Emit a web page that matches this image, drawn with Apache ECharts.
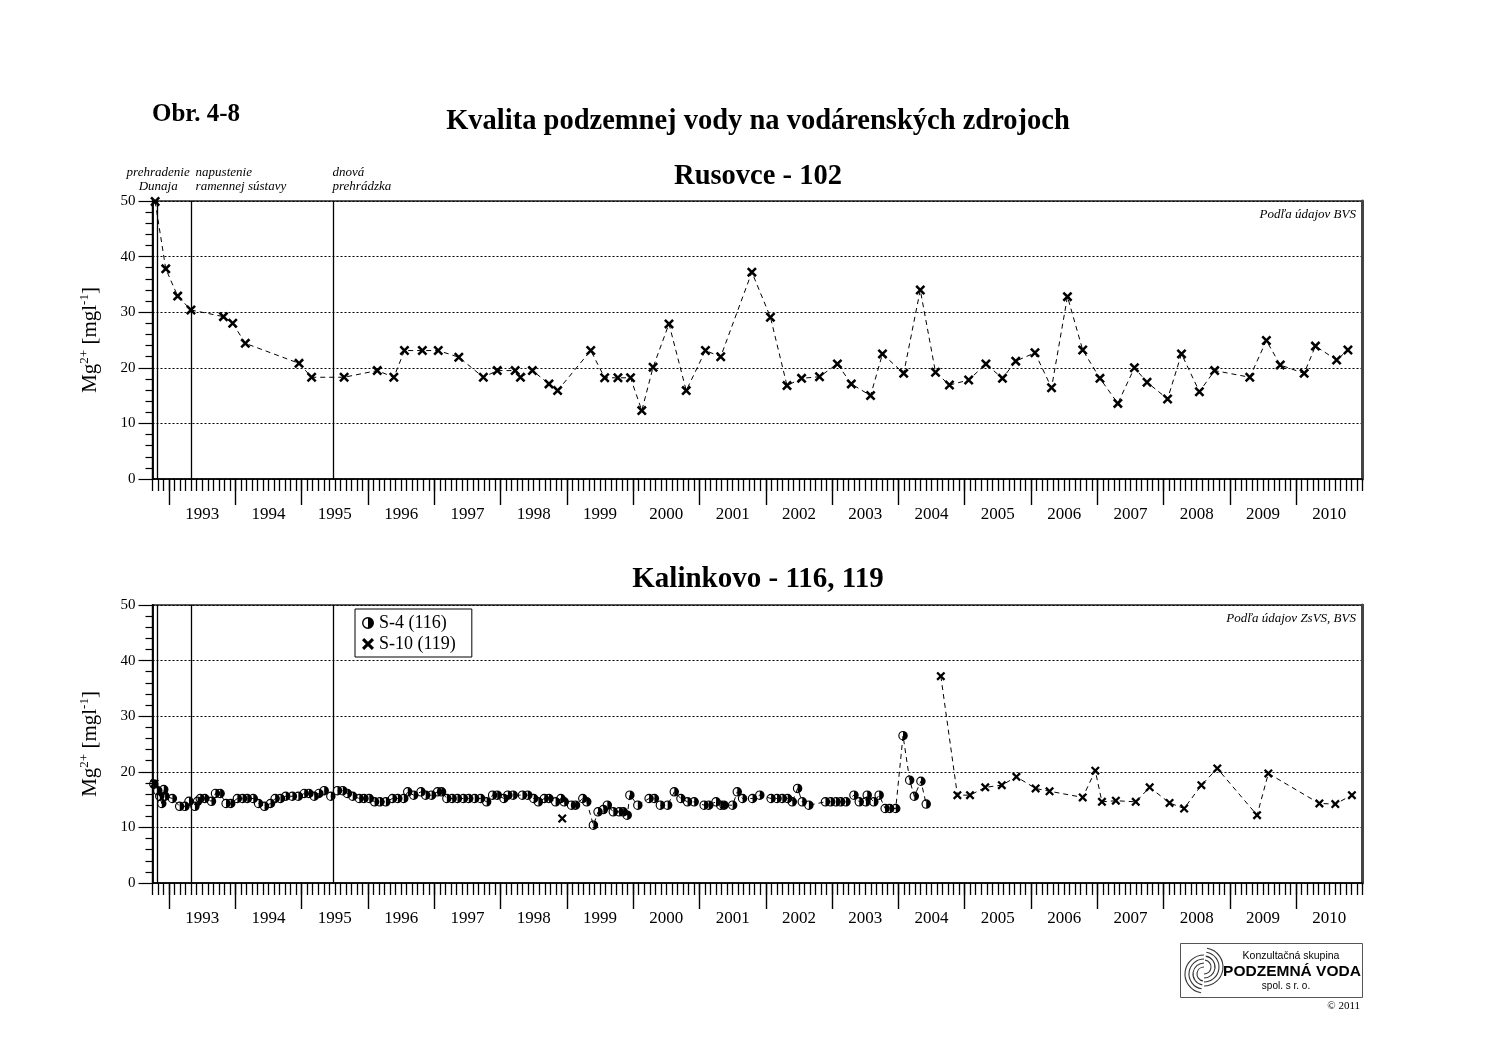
<!DOCTYPE html>
<html><head><meta charset="utf-8">
<script src="https://cdn.jsdelivr.net/npm/echarts@6/dist/echarts.min.js"></script>
<style>html,body{margin:0;padding:0;background:#fff}#c{width:1500px;height:1060px}</style>
</head><body><div id="c"></div><script>
// ---------- data ----------
const yearLabels = ['1993','1994','1995','1996','1997','1998','1999','2000','2001','2002','2003','2004','2005','2006','2007','2008','2009','2010'];
const eventDates = [1992.82, 1993.34, 1995.48];
const eventLabels = [['prehradenie','Dunaja'], ['napustenie','ramennej sústavy'], ['dnová','prehrádzka']];
const rusovce102 = [
 [1992.79,49.9],[1992.95,37.8],[1993.13,32.9],[1993.33,30.4],[1993.82,29.2],[1993.96,28.0],[1994.15,24.4],[1994.96,20.8],
 [1995.15,18.3],[1995.64,18.3],[1996.14,19.5],[1996.39,18.3],[1996.55,23.1],[1996.82,23.1],[1997.06,23.1],[1997.37,21.9],
 [1997.74,18.3],[1997.95,19.5],[1998.22,19.5],[1998.30,18.3],[1998.48,19.5],[1998.73,17.1],[1998.86,15.9],[1999.36,23.1],
 [1999.57,18.2],[1999.77,18.2],[1999.96,18.2],[2000.13,12.3],[2000.30,20.1],[2000.54,27.9],[2000.80,15.9],[2001.09,23.1],
 [2001.32,22.0],[2001.79,37.2],[2002.07,29.1],[2002.32,16.8],[2002.54,18.1],[2002.81,18.4],[2003.08,20.7],[2003.29,17.1],
 [2003.58,15.0],[2003.76,22.5],[2004.08,19.0],[2004.33,34.0],[2004.56,19.2],[2004.77,16.9],[2005.06,17.8],[2005.32,20.7],
 [2005.57,18.1],[2005.77,21.2],[2006.06,22.7],[2006.31,16.4],[2006.55,32.8],[2006.78,23.2],[2007.04,18.1],[2007.31,13.6],
 [2007.56,20.0],[2007.75,17.4],[2008.06,14.4],[2008.27,22.5],[2008.54,15.7],[2008.77,19.5],[2009.30,18.3],[2009.55,24.9],
 [2009.76,20.5],[2010.12,19.0],[2010.29,23.9],[2010.61,21.4],[2010.78,23.2]
];
const kalinkovoS4 = [
 [1992.77,17.8],[1992.83,16.6],[1992.86,15.6],[1992.89,14.3],[1992.92,16.8],[1992.94,15.6],[1993.05,15.2],[1993.16,13.8],
 [1993.24,13.8],[1993.30,14.7],[1993.39,13.8],[1993.43,14.7],[1993.47,15.2],[1993.54,15.2],[1993.64,14.7],[1993.70,16.1],
 [1993.77,16.1],[1993.86,14.3],[1993.93,14.3],[1994.03,15.2],[1994.11,15.2],[1994.18,15.2],[1994.27,15.2],[1994.35,14.3],
 [1994.44,13.8],[1994.53,14.3],[1994.60,15.2],[1994.68,15.2],[1994.76,15.6],[1994.86,15.6],[1994.95,15.6],[1995.04,16.1],
 [1995.11,16.1],[1995.19,15.6],[1995.26,16.1],[1995.34,16.6],[1995.44,15.6],[1995.54,16.6],[1995.62,16.6],[1995.69,16.1],
 [1995.77,15.6],[1995.87,15.2],[1995.94,15.2],[1996.02,15.2],[1996.10,14.6],[1996.18,14.6],[1996.27,14.6],[1996.37,15.2],
 [1996.45,15.2],[1996.54,15.2],[1996.60,16.4],[1996.69,15.8],[1996.80,16.4],[1996.87,15.8],[1996.96,15.8],[1997.05,16.4],
 [1997.11,16.4],[1997.19,15.2],[1997.27,15.2],[1997.35,15.2],[1997.44,15.2],[1997.52,15.2],[1997.61,15.2],[1997.70,15.2],
 [1997.79,14.6],[1997.88,15.8],[1997.95,15.8],[1998.05,15.2],[1998.11,15.8],[1998.19,15.8],[1998.33,15.8],[1998.41,15.8],
 [1998.50,15.2],[1998.57,14.6],[1998.66,15.2],[1998.73,15.2],[1998.83,14.6],[1998.91,15.2],[1998.96,14.6],[1999.07,14.0],
 [1999.13,14.0],[1999.24,15.2],[1999.30,14.6],[1999.40,10.4],[1999.47,12.8],[1999.55,13.2],[1999.61,14.0],[1999.70,12.8],
 [1999.79,12.8],[1999.85,12.8],[1999.91,12.2],[1999.95,15.8],[2000.07,14.0],[2000.24,15.2],[2000.32,15.2],[2000.41,14.0],
 [2000.52,14.0],[2000.62,16.4],[2000.72,15.2],[2000.82,14.6],[2000.92,14.6],[2001.07,14.0],[2001.14,14.0],[2001.25,14.6],
 [2001.32,14.0],[2001.37,14.0],[2001.50,14.0],[2001.57,16.4],[2001.65,15.2],[2001.80,15.2],[2001.91,15.8],[2002.08,15.2],
 [2002.17,15.2],[2002.25,15.2],[2002.33,15.2],[2002.40,14.6],[2002.48,17.0],[2002.55,14.6],[2002.65,14.0],[2002.90,14.6],
 [2002.98,14.6],[2003.06,14.6],[2003.13,14.6],[2003.21,14.6],[2003.33,15.8],[2003.41,14.6],[2003.51,14.6],[2003.53,15.8],
 [2003.63,14.6],[2003.71,15.8],[2003.80,13.4],[2003.87,13.4],[2003.96,13.4],[2004.07,26.5],[2004.17,18.5],[2004.24,15.6],
 [2004.34,18.3],[2004.42,14.2]
];
const kalinkovoS10 = [
 [1992.78,17.9], null, [1998.93,11.6], null, [2004.64,37.2],[2004.89,15.8],[2005.08,15.8],[2005.31,17.2],[2005.56,17.6],
 [2005.78,19.1],[2006.07,17.0],[2006.28,16.5],[2006.78,15.4],[2006.97,20.2],[2007.07,14.6],[2007.28,14.8],[2007.58,14.6],
 [2007.79,17.2],[2008.09,14.4],[2008.31,13.4],[2008.57,17.6],[2008.81,20.6],[2009.41,12.2],[2009.58,19.7],[2010.35,14.3],
 [2010.59,14.2],[2010.84,15.8]
];

// ---------- styles ----------
const SERIF = "'Liberation Serif','Times New Roman',serif";
const SANS = "'Liberation Sans',Arial,sans-serif";
const X_MIN = 1992.75, X_MAX = 2011;
const monthTicks = [];
for (let m = 0; m <= 219; m++) monthTicks.push(X_MIN + m / 12);
const yearTicks = yearLabels.map(Number);
const labelPos = yearLabels.map(y => Number(y) + 0.5);

const xPath = 'path://M-5,-3.2L-3.2,-5L5,3.2L3.2,5ZM-3.2,5L-5,3.2L3.2,-5L5,-3.2Z';
const halfPath = 'path://M0,-5A5,5,0,1,1,0,5A5,5,0,1,1,0,-5ZM0,-3.8A3.8,3.8,0,0,0,0,3.8Z';

const grids = [
  {left: 152.5, right: 137.5, top: 201, height: 278, show: true, borderColor: '#222', borderWidth: 1.5},
  {left: 152.5, right: 137.5, top: 605, height: 278, show: true, borderColor: '#222', borderWidth: 1.5}
];

function xAxes(g) {
  return [
    {gridIndex: g, type: 'value', min: X_MIN, max: X_MAX, position: 'bottom', offset: 0,
     axisLine: {show: true, lineStyle: {color: '#000', width: 1.5}},
     axisTick: {show: true, customValues: monthTicks, length: 12, lineStyle: {color: '#000', width: 1.3}},
     axisLabel: {show: false}, splitLine: {show: false}},
    {gridIndex: g, type: 'value', min: X_MIN, max: X_MAX, position: 'bottom', offset: 0,
     axisLine: {show: false},
     axisTick: {show: true, customValues: yearTicks, length: 26, lineStyle: {color: '#000', width: 1.4}},
     axisLabel: {show: true, customValues: labelPos, margin: 27, color: '#000', fontFamily: SERIF, fontSize: 17,
                 formatter: v => String(Math.floor(v + 1e-6))},
     splitLine: {show: false}}
  ];
}
function yAxes(g) {
  return [
    {gridIndex: g, type: 'value', min: 0, max: 50, interval: 10, position: 'left',
     name: 'Mg{sup|2+} [mgl{sup|-1}]', nameLocation: 'middle', nameGap: 50, nameRotate: 90,
     nameTextStyle: {color: '#000', fontFamily: SERIF, fontSize: 21, lineHeight: 24,
       rich: {sup: {fontFamily: SERIF, fontSize: 13, lineHeight: 13, verticalAlign: 'top', color: '#000'}}},
     axisLine: {show: true, lineStyle: {color: '#000', width: 1.8}},
     axisTick: {show: true, length: 14, lineStyle: {color: '#000', width: 1.2}},
     minorTick: {show: true, splitNumber: 5, length: 7, lineStyle: {color: '#000', width: 1.2}},
     axisLabel: {color: '#000', fontFamily: SERIF, fontSize: 15, margin: 17},
     splitLine: {show: true, lineStyle: {color: '#000', type: [2, 2], width: 1}}},
    {gridIndex: g, type: 'value', min: 0, max: 50, position: 'right',
     axisLine: {show: true, lineStyle: {color: '#444', width: 3}},
     axisTick: {show: false}, axisLabel: {show: false}, splitLine: {show: false}}
  ];
}

const eventMark = {
  silent: true, symbol: 'none', animation: false,
  label: {show: false},
  lineStyle: {color: '#000', type: 'solid', width: 1.3},
  data: eventDates.map(v => ({xAxis: v}))
};
const dashLine = {color: '#000', width: 1, type: [5, 4]};

const chart = echarts.init(document.getElementById('c'));
chart.setOption({
  animation: false,
  backgroundColor: '#fff',
  grid: grids,
  xAxis: [...xAxes(0), ...xAxes(1)],
  yAxis: [...yAxes(0), ...yAxes(1)],
  legend: {
    left: 355, top: 609, orient: 'vertical', padding: [5, 16, 4, 7],
    itemWidth: 12, itemHeight: 12, itemGap: 3, itemTextGap: 6, borderColor: '#000', borderWidth: 1,
    textStyle: {color: '#000', fontFamily: SERIF, fontSize: 18, lineHeight: 18},
    data: [{name: 'S-4 (116)', icon: halfPath}, {name: 'S-10 (119)', icon: xPath}]
  },
  series: [
    {name: 'Rusovce - 102', type: 'line', xAxisIndex: 0, yAxisIndex: 0, data: rusovce102,
     symbol: xPath, symbolSize: 10, symbolKeepAspect: true, itemStyle: {color: '#000'},
     lineStyle: dashLine, markLine: eventMark, z: 3},
    {name: 'S-4 (116)', type: 'line', xAxisIndex: 2, yAxisIndex: 2, data: kalinkovoS4,
     symbol: halfPath, symbolSize: 9.5, symbolKeepAspect: true, itemStyle: {color: '#000'},
     lineStyle: dashLine, markLine: eventMark, z: 3},
    {name: 'S-10 (119)', type: 'line', xAxisIndex: 2, yAxisIndex: 2, data: kalinkovoS10, connectNulls: false,
     symbol: xPath, symbolSize: 9, symbolKeepAspect: true, itemStyle: {color: '#000'},
     lineStyle: dashLine, z: 4}
  ]
});

// ---------- texts & decorations ----------
const px = v => chart.convertToPixel({xAxisIndex: 0}, v);
const g = [];
function txt(text, x, y, font, align, extra) {
  g.push(Object.assign({type: 'text', x: x, y: y, silent: true,
    style: {text: text, font: font, fill: '#000', textAlign: align || 'left', textVerticalAlign: 'middle'}}, extra || {}));
}
txt('Obr. 4-8', 152, 115, 'bold 25px ' + SERIF, 'left');
txt('Kvalita podzemnej vody na vodárenských zdrojoch', 758, 122, 'bold 28.5px ' + SERIF, 'center');
txt('Rusovce - 102', 758, 177, 'bold 28.5px ' + SERIF, 'center');
txt('Kalinkovo - 116, 119', 758, 580, 'bold 29px ' + SERIF, 'center');
txt('Podľa údajov BVS', 1356, 215, 'italic 13px ' + SERIF, 'right');
txt('Podľa údajov ZsVS, BVS', 1356, 619, 'italic 13px ' + SERIF, 'right');
// event annotations above top plot
const annAlign = ['center', 'left', 'left'];
const annDx = [1, 4, -1];
eventLabels.forEach((lines, i) => {
  const x = px(eventDates[i]) + annDx[i];
  txt(lines[0], x, 173, 'italic 13px ' + SERIF, annAlign[i]);
  txt(lines[1], x, 187, 'italic 13px ' + SERIF, annAlign[i]);
});
// logo
g.push({type: 'rect', shape: {x: 1180.5, y: 943.5, width: 182, height: 54}, style: {fill: '#fff', stroke: '#555', lineWidth: 1}, silent: true});
txt('Konzultačná skupina', 1291, 956, '10.5px ' + SANS, 'center');
txt('PODZEMNÁ VODA', 1292, 972, 'bold 15.5px ' + SANS, 'center');
txt('spol. s r. o.', 1286, 986, '10px ' + SANS, 'center');
txt('© 2011', 1360, 1006, '11px ' + SERIF, 'right');
const lc = {stroke: '#333', lineWidth: 1.1, fill: null};
[19, 15, 11, 7].forEach((r, i) => {
  g.push({type: 'arc', silent: true, shape: {cx: 1204, cy: 974, r: r, startAngle: Math.PI * 0.55, endAngle: Math.PI * 1.5}, style: lc});
  g.push({type: 'arc', silent: true, shape: {cx: 1204, cy: 967, r: r, startAngle: Math.PI * 1.55, endAngle: Math.PI * 0.5}, style: lc});
});
chart.setOption({graphic: g});
</script></body></html>
